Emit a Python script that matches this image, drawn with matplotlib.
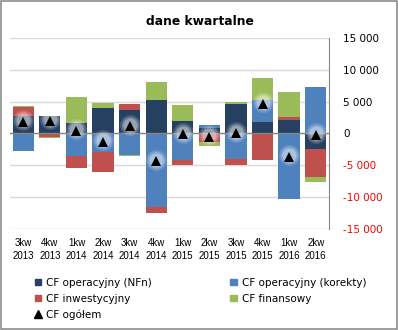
import matplotlib.pyplot as plt
from matplotlib.patches import Rectangle
from matplotlib.lines import Line2D
import numpy as np

# quarterly cash flow data
kwartaly = ["3kw\n2013", "4kw\n2013", "1kw\n2014", "2kw\n2014", "3kw\n2014", "4kw\n2014",
            "1kw\n2015", "2kw\n2015", "3kw\n2015", "4kw\n2015", "1kw\n2016", "2kw\n2016"]
cf_nfn = [2700, 2700, 1600, 4000, 3650, 5350, 1900, 850, 4600, 1750, 2100, -2400]
cf_korekty = [-2700, -150, -3500, -2900, -3400, -11600, -4150, 470, -4000, 3600, -10350, 7400]
cf_inwest = [1400, -450, -1900, -3100, 950, -950, -750, -1400, -900, -4100, 450, -4400]
cf_finans = [300, -150, 4200, 800, -100, 2800, 2650, -500, 300, 3450, 4050, -900]
cf_ogolem = [1800, 2000, 400, -1300, 1150, -4400, -150, -500, 0, 4700, -3700, -250]
y_ticks = [-15000, -10000, -5000, 0, 5000, 10000, 15000]

series = [
    (cf_nfn, "#254061", "CF operacyjny (NFn)"),
    (cf_korekty, "#4F81BD", "CF operacyjny (korekty)"),
    (cf_inwest, "#C0504D", "CF inwestycyjny"),
    (cf_finans, "#9BBB59", "CF finansowy"),
]

fig = plt.figure(figsize=(3.98, 3.30), dpi=100)
ax = fig.add_axes([0.0251, 0.307, 0.8015, 0.577])

x = np.arange(len(kwartaly))
pos_base = np.zeros(len(x))
neg_base = np.zeros(len(x))
for vals, color, label in series:
    v = np.array(vals, dtype=float)
    base = np.where(v >= 0, pos_base, neg_base)
    ax.bar(x, v, 0.8, bottom=base, color=color, zorder=2)
    pos_base += np.where(v >= 0, v, 0)
    neg_base += np.where(v < 0, v, 0)

# soft white glow behind the total markers
for ms, a in [(15, 0.15), (12.5, 0.2), (10, 0.3)]:
    ax.plot(x, np.array(cf_ogolem) + 250, linestyle="none", marker="o", ms=ms,
            color="white", alpha=a, mew=0, zorder=4)
ax.plot(x, cf_ogolem, linestyle="none", marker="^", ms=7.5, color="black",
        mew=0, zorder=5)

ax.axhline(0, color="#868686", lw=1, zorder=3)
ax.set_xlim(-0.5, len(x) - 0.5)
ax.set_ylim(-15000, 15000)
ax.set_yticks(y_ticks)
ax.yaxis.tick_right()
ax.set_yticklabels([f"{v:,}".replace(",", " ") for v in y_ticks], fontsize=7.5)
for lab, v in zip(ax.get_yticklabels(), y_ticks):
    lab.set_color("red" if v < 0 else "black")
ax.tick_params(axis="y", length=0, pad=10)
ax.set_xticks(x)
ax.set_xticklabels(kwartaly, fontsize=7, family="Liberation Sans", linespacing=1.35)
ax.tick_params(axis="x", length=0, pad=7)
ax.grid(axis="y", color="#d9d9d9", lw=1, zorder=0)
ax.set_axisbelow(True)
for s in ["top", "left", "bottom"]:
    ax.spines[s].set_visible(False)
ax.spines["right"].set_color("#868686")

fig.text(0.503, 0.935, "dane kwartalne", ha="center", va="center",
         fontsize=8.8, fontweight="bold")

handles = [
    Rectangle((0, 0), 1, 1, color=series[0][1]),
    Rectangle((0, 0), 1, 1, color=series[2][1]),
    Line2D([], [], linestyle="none", marker="^", color="black", ms=6),
    Rectangle((0, 0), 1, 1, color=series[1][1]),
    Rectangle((0, 0), 1, 1, color=series[3][1]),
]
labels = [series[0][2], series[2][2], "CF ogółem", series[1][2], series[3][2]]
fig.legend(handles, labels, ncol=2, loc="upper left", bbox_to_anchor=(0.088, 0.158),
           frameon=False, fontsize=7.5, handlelength=0.6, handleheight=0.6,
           handletextpad=0.5, columnspacing=7.5, labelspacing=0.55,
           borderaxespad=0, borderpad=0)

fig.patches.append(Rectangle((0.002, 0.002), 0.996, 0.995, transform=fig.transFigure,
                             fill=False, edgecolor="#8c8c8c", lw=1.2))

fig.savefig("out.png", dpi=100)
